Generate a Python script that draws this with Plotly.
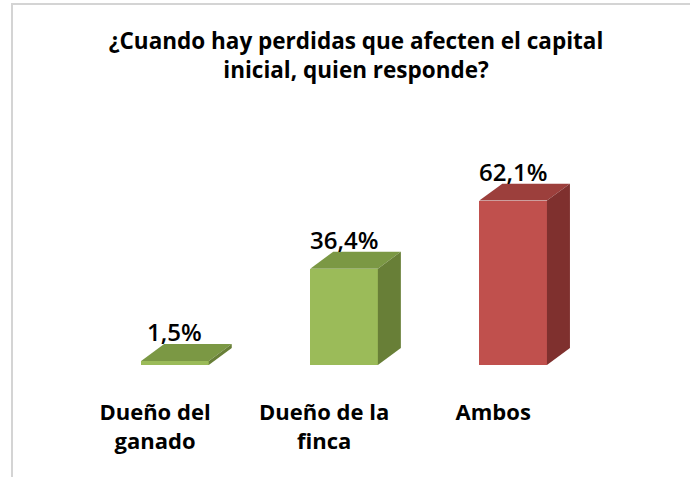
import plotly.graph_objects as go

# ---- data ----
categories = ["Dueño del<br>ganado", "Dueño de la<br>finca", "Ambos"]
values = [1.5, 36.4, 62.1]
title_text = "¿Cuando hay perdidas que afecten el capital<br>inicial, quien responde?"

# ---- style ----
front_colors = ["#9BBB59", "#9BBB59", "#C0504D"]
top_colors = ["#7B9844", "#7B9844", "#9C3F3C"]
side_colors = ["#687F37", "#687F37", "#7F302E"]
BAR_W = 0.40
BAR_OFF = -0.082
DX = 0.136   # depth in x units
DY = 6.4     # depth in y units
FONT = "Open Sans, Liberation Sans, sans-serif"

xs = list(range(len(categories)))

fig = go.Figure()

# front faces
fig.add_trace(go.Bar(
    x=xs, y=values, base=0, width=BAR_W, offset=BAR_OFF,
    marker=dict(color=front_colors, line=dict(width=0)),
    hoverinfo="skip", showlegend=False,
))

# top & side faces (derived from data)
for i, v in enumerate(values):
    xl = xs[i] + BAR_OFF
    xr = xl + BAR_W
    fig.add_trace(go.Scatter(
        x=[xl, xr, xr + DX, xl + DX, xl],
        y=[v, v, v + DY, v + DY, v],
        fill="toself", mode="lines", line=dict(width=0),
        fillcolor=top_colors[i], hoverinfo="skip", showlegend=False,
    ))
    fig.add_trace(go.Scatter(
        x=[xr, xr + DX, xr + DX, xr, xr],
        y=[0, DY, v + DY, v, 0],
        fill="toself", mode="lines", line=dict(width=0),
        fillcolor=side_colors[i], hoverinfo="skip", showlegend=False,
    ))
    fig.add_annotation(
        x=xl + BAR_W / 2, y=v + DY, xref="x", yref="y",
        text=f"{v:.1f}".replace(".", ",") + "%",
        showarrow=False, yanchor="bottom", yshift=-6,
        font=dict(family=FONT, size=24, color="#000000", weight=600),
    )

# outer frame
fig.add_shape(type="rect", xref="paper", yref="paper",
              x0=-0.0896, x1=1.3, y0=-0.7, y1=1.605,
              line=dict(color="#D4D4D4", width=2), fillcolor="rgba(0,0,0,0)",
              layer="below")

fig.update_layout(
    width=690, height=477, autosize=False,
    margin=dict(l=62, r=70, t=140, b=112),
    paper_bgcolor="white", plot_bgcolor="white",
    title=dict(text=title_text, x=0.516, xanchor="center", y=0.897, yanchor="top",
               font=dict(family=FONT, size=22.5, color="#000000", weight="bold")),
    xaxis=dict(range=[-0.55, 2.75], tickvals=xs, ticktext=categories,
               showgrid=False, zeroline=False, showline=False, ticks="",
               ticklabelstandoff=32,
               tickfont=dict(family=FONT, size=22, color="#000000", weight="bold")),
    yaxis=dict(range=[0, 85], visible=False, showgrid=False, zeroline=False),
    bargap=0,
)

fig.write_html("out.html", config={"displayModeBar": False},
               post_script="document.body.style.margin='0px';")
